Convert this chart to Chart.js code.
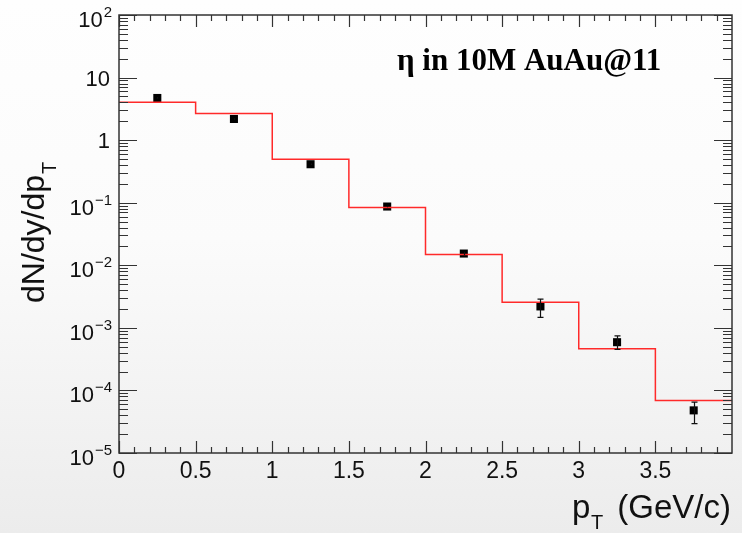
<!DOCTYPE html>
<html>
<head>
<meta charset="utf-8">
<script src="https://cdn.jsdelivr.net/npm/chart.js@4.4.0/dist/chart.umd.min.js"></script>
<style>
  html, body { margin: 0; padding: 0; }
  body { width: 742px; height: 533px; background: linear-gradient(to bottom, #fefefe 0%, #fbfbfb 45%, #ececec 100%); }
  canvas { display: block; }
</style>
</head>
<body>
<canvas id="c" width="742" height="533"></canvas>
<script>
// histogram (red steps)
const binEdges = [0, 0.5, 1, 1.5, 2, 2.5, 3, 3.5, 4];
const histValues = [4.03, 2.66, 0.495, 0.0838, 0.0149, 0.00257, 0.000462, 0.000069];

// measured points
const ptX = [0.25, 0.75, 1.25, 1.75, 2.25, 2.75, 3.25, 3.75];
const ptY = [4.72, 2.18, 0.412, 0.0869, 0.0154, 0.0022, 0.00059, 0.000048];
const errUp = [0.13, 0.06, 0.011, 0.0024, 0.0009, 0.00067, 0.000155, 0.000017];
const errDown = [0.12, 0.06, 0.011, 0.0024, 0.0008, 0.00073, 0.000138, 0.0000185];

// axis labels
const xTickLabels = ['0', '0.5', '1', '1.5', '2', '2.5', '3', '3.5'];
const xTickValues = [0, 0.5, 1, 1.5, 2, 2.5, 3, 3.5];
const yDecades = [-5, -4, -3, -2, -1, 0, 1, 2];

const FONT = '"Liberation Sans", Arial, sans-serif';

const stepData = [];
histValues.forEach((v, i) => {
  stepData.push({ x: binEdges[i], y: v });
  stepData.push({ x: binEdges[i + 1], y: v });
});
const pointData = ptX.map((x, i) => ({ x: x, y: ptY[i] }));

const errorBars = {
  id: 'errorBars',
  afterDatasetsDraw(chart) {
    const { ctx, scales: { x, y } } = chart;
    ctx.save();
    ctx.strokeStyle = '#111';
    ctx.lineWidth = 1.2;
    ptX.forEach((v, i) => {
      const px = Math.round(x.getPixelForValue(v)) + 0.5;
      const top = y.getPixelForValue(ptY[i] + errUp[i]);
      const bot = y.getPixelForValue(ptY[i] - errDown[i]);
      ctx.beginPath();
      ctx.moveTo(px, top); ctx.lineTo(px, bot);
      if (bot - top > 10) {
        ctx.moveTo(px - 3, top); ctx.lineTo(px + 3, top);
        ctx.moveTo(px - 3, bot); ctx.lineTo(px + 3, bot);
      }
      ctx.stroke();
    });
    ctx.restore();
  }
};

const frame = {
  id: 'frame',
  afterDraw(chart) {
    const { ctx, chartArea: a, scales: { x, y } } = chart;
    ctx.save();
    ctx.strokeStyle = '#333';
    ctx.lineWidth = 1.2;
    ctx.beginPath();
    // x ticks, bottom and top
    for (let i = 0; i < 40; i++) {
      const px = Math.round(x.getPixelForValue(i / 10)) + 0.5;
      const len = i % 5 === 0 ? 12 : 6;
      ctx.moveTo(px, a.bottom); ctx.lineTo(px, a.bottom - len);
      ctx.moveTo(px, a.top); ctx.lineTo(px, a.top + len);
    }
    // y ticks, left and right
    yDecades.forEach(d => {
      for (let m = 1; m <= 9; m++) {
        if (d === 2 && m > 1) break;
        const py = Math.round(y.getPixelForValue(m * Math.pow(10, d))) + 0.5;
        const len = m === 1 ? 18 : 9;
        ctx.moveTo(a.left, py); ctx.lineTo(a.left + len, py);
        ctx.moveTo(a.right, py); ctx.lineTo(a.right - len, py);
      }
    });
    ctx.stroke();
    ctx.lineWidth = 1.5;
    ctx.strokeRect(a.left, a.top, a.right - a.left, a.bottom - a.top);

    ctx.fillStyle = '#111';
    // x tick labels
    ctx.font = '23px ' + FONT;
    ctx.textAlign = 'center';
    ctx.textBaseline = 'alphabetic';
    xTickValues.forEach((v, i) => {
      ctx.fillText(xTickLabels[i], x.getPixelForValue(v), 478);
    });

    // y tick labels
    const right = a.left - 8;
    yDecades.forEach(d => {
      const py = y.getPixelForValue(Math.pow(10, d));
      ctx.textAlign = 'right';
      if (d === 0 || d === 1) {
        ctx.font = '22px ' + FONT;
        ctx.fillText(d === 0 ? '1' : '10', right - 1, py + 8);
      } else {
        const exp = d < 0 ? '\u2212' + (-d) : String(d);
        ctx.font = '15px ' + FONT;
        const ew = ctx.measureText(exp).width;
        ctx.fillText(exp, right + 1, py + 2);
        ctx.font = '22px ' + FONT;
        ctx.fillText('10', right - ew, py + 12);
      }
    });

    // x title
    ctx.textAlign = 'left';
    ctx.font = '33px ' + FONT;
    ctx.fillText('p', 572, 518);
    ctx.font = '20px ' + FONT;
    ctx.fillText('T', 591, 529);
    ctx.textAlign = 'right';
    ctx.font = '33px ' + FONT;
    ctx.fillText('(GeV/c)', 731, 518);

    // y title
    ctx.save();
    ctx.translate(44, 303);
    ctx.rotate(-Math.PI / 2);
    ctx.textAlign = 'left';
    ctx.font = '32px ' + FONT;
    ctx.fillText('dN/dy/dp', 0, 0);
    const w = ctx.measureText('dN/dy/dp').width;
    ctx.font = '20px ' + FONT;
    ctx.fillText('T', w + 1, 12);
    ctx.restore();

    // label
    ctx.textAlign = 'left';
    ctx.font = 'bold 31px "Liberation Serif", "Times New Roman", serif';
    ctx.fillStyle = '#000';
    ctx.fillText('\u03b7 in 10M AuAu@11', 397, 70);
    ctx.restore();
  }
};

new Chart(document.getElementById('c'), {
  type: 'scatter',
  data: {
    datasets: [
      {
        type: 'line',
        label: 'hist',
        data: stepData,
        borderColor: '#ff2a2a',
        borderWidth: 1.5,
        pointRadius: 0,
        fill: false,
        tension: 0
      },
      {
        label: 'data',
        data: pointData,
        pointStyle: 'rect',
        pointRadius: 5.7,
        backgroundColor: '#000',
        borderColor: '#000',
        borderWidth: 0
      }
    ]
  },
  options: {
    responsive: false,
    animation: false,
    layout: { padding: { left: 119, right: 10, top: 15, bottom: 80 } },
    plugins: { legend: { display: false }, tooltip: { enabled: false } },
    scales: {
      x: { type: 'linear', min: 0, max: 4, display: false },
      y: { type: 'logarithmic', min: 1e-5, max: 100, display: false }
    }
  },
  plugins: [errorBars, frame]
});
</script>
</body>
</html>
